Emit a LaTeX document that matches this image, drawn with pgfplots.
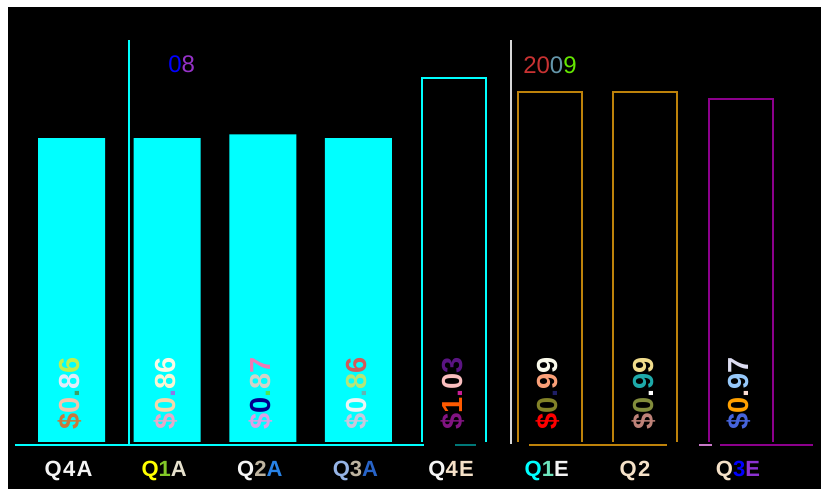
\documentclass[border=0pt]{standalone}
\usepackage{pgfplots}
\pgfplotsset{compat=1.18}
\usepackage{fontspec}
\setmainfont{Liberation Sans}
\newfontfamily\lblfont[LetterSpace=6]{Liberation Sans}

% bar colours
\definecolor{barcyan}{RGB}{0,255,255}
\definecolor{gold}{RGB}{190,130,10}
\definecolor{purp}{RGB}{140,0,140}
\definecolor{dteal}{RGB}{0,120,120}
\definecolor{orch}{RGB}{200,120,200}
\definecolor{sep}{RGB}{215,215,215}
% tick label colours
\definecolor{wht}{RGB}{245,245,245}
\definecolor{yel}{RGB}{255,255,0}
\definecolor{grn}{RGB}{130,200,40}
\definecolor{bge}{RGB}{230,225,205}
\definecolor{gbe}{RGB}{190,180,160}
\definecolor{lblu}{RGB}{40,130,230}
\definecolor{sky}{RGB}{150,180,230}
\definecolor{dblu}{RGB}{40,100,200}
\definecolor{pch}{RGB}{245,225,200}
\definecolor{aqu}{RGB}{110,230,190}
\definecolor{vio}{RGB}{140,50,210}
\definecolor{pblue}{RGB}{0,0,255}
% year colours
\definecolor{yr}{RGB}{200,50,50}
\definecolor{ys}{RGB}{100,150,170}
\definecolor{yg}{RGB}{100,230,0}
\definecolor{ypu}{RGB}{150,50,200}

\newcommand\C[2]{\textcolor[RGB]{#1}{#2}}

\begin{document}
\begin{tikzpicture}
\useasboundingbox (0,0) rectangle (823pt,489pt);
\fill[white] (0,0) rectangle (823pt,489pt);
\fill[black] (8pt,0) rectangle (821pt,482pt);
\begin{axis}[
  at={(14.12pt,45pt)}, anchor=south west,
  x=95.64pt, y=355.8pt,
  xmin=-0.6, xmax=7.75, ymin=0, ymax=1.2,
  clip=false,
  axis line style={draw=none},
  major tick length=0pt,
  ytick=\empty,
  xtick={0,...,7},
  xticklabels={
    {\color{wht}Q4A},
    {\textcolor{yel}{Q}\textcolor{grn}{1}\textcolor{bge}{A}},
    {\textcolor{wht}{Q}\textcolor{gbe}{2}\textcolor{lblu}{A}},
    {\textcolor{sky}{Q}\textcolor{gbe}{3}\textcolor{dblu}{A}},
    {\textcolor{wht}{Q}\textcolor{pch}{4E}},
    {\textcolor{barcyan}{Q}\textcolor{aqu}{1}\textcolor{wht}{E}},
    {\textcolor{pch}{Q2}\phantom{E}},
    {\textcolor{pch}{Q}\textcolor{pblue}{3}\textcolor{vio}{E}}},
  xticklabel style={font=\lblfont\bfseries\fontsize{22}{22}\selectfont,
    anchor=north, inner sep=0pt, xshift=-3pt, yshift=-17pt},
]
% EPS bars
\addplot[ybar, bar shift=0pt, bar width=67pt, fill=barcyan, draw=none]
  coordinates {(0,0.86) (1,0.86) (2,0.87) (3,0.86)};
\addplot[ybar, bar shift=0pt, bar width=64pt, draw=barcyan, line width=2pt, fill=none]
  coordinates {(4,1.03)};
\addplot[ybar, bar shift=0pt, bar width=64pt, draw=gold, line width=2pt, fill=none]
  coordinates {(5,0.99) (6,0.99)};
\addplot[ybar, bar shift=0pt, bar width=64pt, draw=purp, line width=2pt, fill=none]
  coordinates {(7,0.97)};

% broken base line
\draw[black, line width=3pt] (axis cs:-0.6,0) -- (axis cs:7.75,0);
\begin{scope}[line width=2.5pt, yshift=-0.8pt]
\draw[barcyan] (axis cs:-0.591,0) -- (axis cs:3.686,0);
\draw[dteal] (axis cs:4.010,0) -- (axis cs:4.229,0);
\draw[gold] (axis cs:4.784,0) -- (axis cs:6.226,0);
\draw[orch] (axis cs:6.561,0) -- (axis cs:6.697,0);
\draw[purp] (axis cs:6.781,0) -- (axis cs:7.753,0);
\end{scope}

% year separators
\draw[barcyan, line width=2pt] (axis cs:0.596,0) -- (axis cs:0.596,1.1355);
\draw[sep, line width=2pt] (axis cs:4.595,0) -- (axis cs:4.595,1.1355);
\node[font=\fontsize{24}{24}\selectfont] at (axis cs:1.152,1.066)
  {\textcolor{pblue}{0}\textcolor{ypu}{8}};
\node[font=\fontsize{24}{24}\selectfont] at (axis cs:5.003,1.065)
  {\textcolor{yr}{20}\textcolor{ys}{0}\textcolor{yg}{9}};

% value labels
\begin{scope}[every node/.style={rotate=90, anchor=base west, inner sep=0pt,
    font=\bfseries\fontsize{29}{29}\selectfont}]
\node at (axis cs:0.083,0.039) {\C{200,120,60}{\$}\C{245,195,170}{0}\C{60,160,100}{.}\C{225,235,250}{8}\C{190,240,80}{6}};
\node at (axis cs:1.083,0.039) {\C{230,170,200}{\$}\C{245,215,170}{0}\C{140,120,230}{.}\C{250,245,210}{8}\C{250,250,230}{6}};
\node at (axis cs:2.083,0.039) {\C{220,160,230}{\$}\C{0,0,140}{0}\C{80,230,80}{.}\C{210,210,200}{8}\C{240,120,180}{7}};
\node at (axis cs:3.083,0.039) {\C{200,200,220}{\$}\C{235,245,245}{0}\C{100,180,180}{.}\C{180,230,120}{8}\C{210,90,90}{6}};
\node at (axis cs:4.083,0.039) {\C{130,20,130}{\$}\C{255,90,0}{1}\C{200,30,150}{.}\C{250,190,190}{0}\C{90,20,130}{3}};
\node at (axis cs:5.083,0.039) {\C{255,0,0}{\$}\C{130,130,40}{0}\C{30,30,100}{.}\C{250,160,120}{9}\C{250,250,235}{9}};
\node at (axis cs:6.083,0.039) {\C{190,130,120}{\$}\C{130,140,60}{0}\C{255,255,255}{.}\C{30,170,170}{9}\C{240,220,140}{9}};
\node at (axis cs:7.083,0.039) {\C{70,100,220}{\$}\C{255,160,0}{0}\C{250,220,210}{.}\C{150,200,250}{9}\C{220,220,240}{7}};
\end{scope}
\end{axis}
\end{tikzpicture}
\end{document}
